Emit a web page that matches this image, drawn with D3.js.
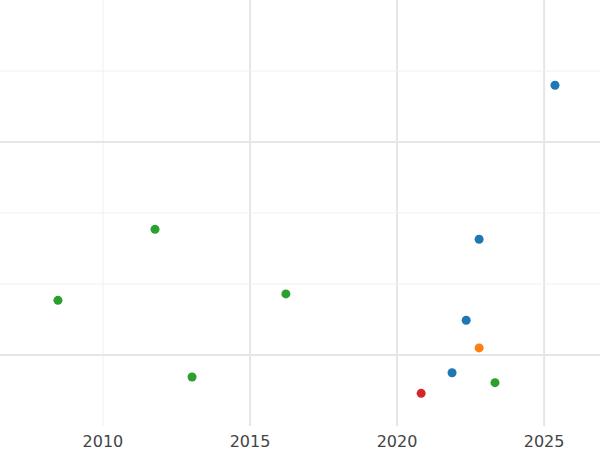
<!doctype html>
<html lang="en">
<head>
<meta charset="utf-8">
<title>scatter</title>
<style>
html, body { margin: 0; padding: 0; background: white; overflow: hidden; }
svg text { font-family: 'DejaVu Sans', sans-serif; }
</style>
</head>
<body>
<div id="chart"></div>
<script src="https://cdnjs.cloudflare.com/ajax/libs/d3/7.8.5/d3.min.js"></script>
<script>
(function () {
	'use strict';

	/* DATA */
	var years  = [2025.37, 2011.77, 2022.79, 2008.47, 2016.22, 2022.35, 2022.79, 2013.03, 2021.87, 2023.33, 2020.82];
	var values = [4.80, 2.77, 2.63, 1.77, 1.86, 1.49, 1.10, 0.69, 0.75, 0.61, 0.46];
	var groups = ['blue', 'green', 'blue', 'green', 'green', 'blue', 'orange', 'green', 'blue', 'green', 'red'];
	var xTicks = [2010, 2015, 2020, 2025];
	var xMajor = [2015, 2020, 2025];
	var yLines = [1, 2, 3, 4, 5];
	var yMajor = [1, 4];

	var palette = { blue: '#1f77b4', orange: '#ff7f0e', green: '#2ca02c', red: '#d62728' };

	var W = 600, H = 450, plotBottom = 426;

	var x = d3.scaleLinear().domain([2006.5, 2026.9]).range([0, W]);
	var y = d3.scaleLinear().domain([0, 6]).range([plotBottom, 0]);

	var svg = d3.select('#chart').append('svg').attr('width', W).attr('height', H);

	svg.selectAll('line.gx').data(xTicks).enter().append('line')
		.attr('x1', function (d) { return x(d); }).attr('x2', function (d) { return x(d); })
		.attr('y1', 0).attr('y2', plotBottom)
		.attr('stroke', function (d) { return xMajor.indexOf(d) >= 0 ? '#e6e6e6' : '#f0f0f0'; })
		.attr('stroke-width', function (d) { return xMajor.indexOf(d) >= 0 ? 2 : 1; });

	svg.selectAll('line.gy').data(yLines).enter().append('line')
		.attr('x1', 0).attr('x2', W)
		.attr('y1', function (d) { return y(d); }).attr('y2', function (d) { return y(d); })
		.attr('stroke', function (d) { return yMajor.indexOf(d) >= 0 ? '#e6e6e6' : '#f0f0f0'; })
		.attr('stroke-width', function (d) { return yMajor.indexOf(d) >= 0 ? 2 : 1; });

	svg.selectAll('text.tx').data(xTicks).enter().append('text')
		.attr('x', function (d) { return x(d); }).attr('y', 447)
		.attr('text-anchor', 'middle').attr('font-size', 16).attr('fill', '#444')
		.text(function (d) { return d; });

	svg.selectAll('circle').data(years).enter().append('circle')
		.attr('cx', function (d) { return x(d); })
		.attr('cy', function (d, i) { return y(values[i]); })
		.attr('r', 4.5)
		.attr('fill', function (d, i) { return palette[groups[i]]; });
})();
</script>
</body>
</html>
